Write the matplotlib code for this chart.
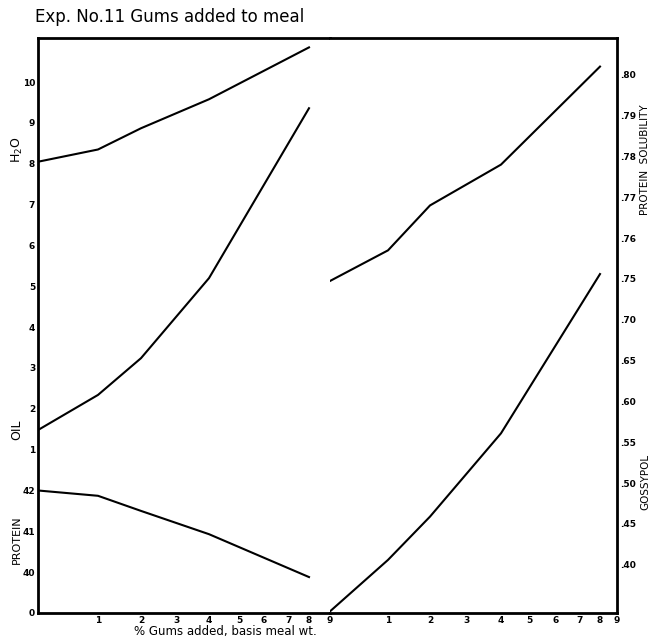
import numpy as np
import matplotlib
matplotlib.use("Agg")
import matplotlib.pyplot as plt

# % gums added (basis meal wt.)
gums = [0, 1, 2, 4, 8]

# left half of the sheet
h2o = [8.05, 8.35, 8.87, 9.58, 10.85]
oil = [1.48, 2.34, 3.24, 5.2, 9.36]
protein = [42.0, 41.87, 41.5, 40.93, 39.88]

# right half of the sheet
solubility = [0.7495, 0.757, 0.768, 0.778, 0.802]
gossypol = [0.343, 0.406, 0.459, 0.561, 0.756]

x_ticks = list(range(1, 10))
h2o_ticks = list(range(1, 11))
protein_ticks = [40, 41, 42]
gossypol_ticks = [0.40, 0.45, 0.50, 0.55, 0.60, 0.65, 0.70, 0.75]
solubility_ticks = [0.76, 0.77, 0.78, 0.79, 0.80]

# hand drawn x rulings (pixel position of 0..9 on each half)
left_px = [38, 98, 141, 177, 209, 239, 264, 289, 309, 330]
right_px = [330, 388, 430, 467, 501, 529, 556, 580, 600, 617]


def ruled_scale(px):
    steps = np.arange(len(px))
    frac = (np.array(px, float) - px[0]) / (px[-1] - px[0])

    def fwd(x):
        return np.interp(x, steps, frac)

    def inv(f):
        return np.interp(f, frac, steps)

    return fwd, inv


W, H = 656, 641
fig = plt.figure(figsize=(W / 100, H / 100), dpi=100)
bot = 1 - 613 / H
top = 1 - 38 / H
axl = fig.add_axes([38 / W, bot, 292 / W, top - bot])
axr = fig.add_axes([330 / W, bot, 287 / W, top - bot])

tick_kw = dict(length=0, pad=2, labelsize=6.5)

# ---- left: H2O / oil (shared ruling) and protein
axl.set_xscale("function", functions=ruled_scale(left_px))
axl.set_xlim(0, 9)
axl.set_xticks(x_ticks)
axl.set_ylim(-3, 11.08)
axl.set_yticks([-3] + h2o_ticks)
axl.set_yticklabels(["0"] + [str(t) for t in h2o_ticks])
axl.plot(gums, h2o, color="black", lw=1.5)
axl.plot(gums, oil, color="black", lw=1.5)
axl.spines["right"].set_visible(False)

axp = axl.twinx()
axp.set_ylim(39, 53.08)
axp.yaxis.tick_left()
axp.set_yticks(protein_ticks)
axp.plot(gums, protein, color="black", lw=1.5)
for s in axp.spines.values():
    s.set_visible(False)

# ---- right: gossypol and protein solubility
axr.set_xscale("function", functions=ruled_scale(right_px))
axr.set_xlim(0, 9)
axr.set_xticks(x_ticks)
axr.set_ylim(0.341, 1.045)
axr.set_yticks(gossypol_ticks)
axr.set_yticklabels(["." + f"{t:.2f}"[2:] for t in gossypol_ticks])
axr.plot(gums, gossypol, color="black", lw=1.5)
axr.spines["left"].set_visible(False)

axs = axr.twinx()
axs.set_ylim(0.6682, 0.809)
axs.set_yticks(solubility_ticks)
axs.set_yticklabels(["." + f"{t:.2f}"[2:] for t in solubility_ticks])
axs.plot(gums, solubility, color="black", lw=1.5)
for s in axs.spines.values():
    s.set_visible(False)
axr.yaxis.tick_right()  # twinx flips it back to the left

for ax in (axl, axr):
    for s in ax.spines.values():
        s.set_linewidth(2)
for ax in (axl, axp, axr, axs):
    ax.tick_params(**tick_kw)
    for lab in ax.get_xticklabels() + ax.get_yticklabels():
        lab.set_fontweight("bold")

fig.text(35 / W, 1 - 17 / H, "Exp. No.11 Gums added to meal", fontsize=12,
         va="center", ha="left")
fig.text(225 / W, 1 - 632 / H, "% Gums added, basis meal wt.", fontsize=8.5,
         va="center", ha="center")
fig.text(17 / W, 1 - 150 / H, "H$_2$O", rotation=90, fontsize=9,
         va="center", ha="center")
fig.text(17 / W, 1 - 430 / H, "OIL", rotation=90, fontsize=9,
         va="center", ha="center")
fig.text(17 / W, 1 - 540 / H, "PROTEIN", rotation=90, fontsize=8,
         va="center", ha="center")
fig.text(645 / W, 1 - 160 / H, "PROTEIN  SOLUBILITY", rotation=90,
         fontsize=7.5, va="center", ha="center")
fig.text(645 / W, 1 - 482 / H, "GOSSYPOL", rotation=90, fontsize=7.5,
         va="center", ha="center")

fig.savefig("out.png", dpi=100)
